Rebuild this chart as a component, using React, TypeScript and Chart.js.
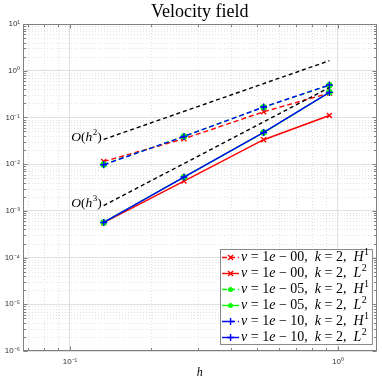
import React, { useEffect, useRef } from 'react';
import { Chart, registerables } from 'chart.js';

Chart.register(...registerables);

// ---- data ----
const h = [0.1336, 0.2663, 0.528, 0.929];
const nu0H1 = [0.0114, 0.035, 0.132, 0.333];
const nu0L2 = [5.6e-4, 4.35e-3, 0.0333, 0.11];
const nu5H1 = [0.0098, 0.0391, 0.166, 0.49];
const nu5L2 = [5.65e-4, 5.28e-3, 0.0475, 0.345];
const nu10H1 = [0.0097, 0.0392, 0.167, 0.494];
const nu10L2 = [5.65e-4, 5.29e-3, 0.0477, 0.343];
// reference slopes, values at h[0] and h[3]
const refH2 = [0.0339, 1.64];
const refH3 = [1.3e-3, 0.437];

const xLimits = [0.0668, 1.3935];
const yLimits = [1e-6, 10];
const xTickValues = [0.1, 1];
const yTickValues = [1e-6, 1e-5, 1e-4, 1e-3, 1e-2, 1e-1, 1, 10];

const titleText = 'Velocity field';
const nuLabels = ['00', '00', '05', '05', '10', '10'];
const normLabels = ['H', 'L', 'H', 'L', 'H', 'L'];
const normSup = ['1', '2', '1', '2', '1', '2'];

const SUP: Record<string, string> = {
  '-': '\u207B', '0': '\u2070', '1': '\u00B9', '2': '\u00B2', '3': '\u00B3',
  '4': '\u2074', '5': '\u2075', '6': '\u2076', '7': '\u2077', '8': '\u2078', '9': '\u2079',
};
const pow10Label = (v: number) => {
  const e = Math.round(Math.log10(v));
  return '10' + String(e).split('').map((c) => SUP[c]).join('');
};

type Seg = { t: string; it?: boolean; sup?: boolean };
const SERIF = '"Liberation Serif", "DejaVu Serif", serif';

function segFont(s: Seg, size: number) {
  const sz = s.sup ? Math.round(size * 0.7) : size;
  return `${s.it ? 'italic ' : ''}${sz}px ${SERIF}`;
}
function richWidth(ctx: CanvasRenderingContext2D, segs: Seg[], size: number) {
  let w = 0;
  for (const s of segs) {
    ctx.font = segFont(s, size);
    w += ctx.measureText(s.t).width + (s.sup ? 0.5 : 0);
  }
  return w;
}
function drawRich(ctx: CanvasRenderingContext2D, segs: Seg[], x: number, y: number, size: number) {
  let cx = x;
  ctx.textBaseline = 'middle';
  ctx.textAlign = 'left';
  for (const s of segs) {
    ctx.font = segFont(s, size);
    ctx.fillText(s.t, cx + (s.sup ? 0.5 : 0), s.sup ? y - size * 0.38 : y);
    cx += ctx.measureText(s.t).width + (s.sup ? 0.5 : 0);
  }
  return cx;
}

function drawMarker(ctx: CanvasRenderingContext2D, style: string, x: number, y: number, r: number, color: string, lw: number) {
  ctx.save();
  ctx.setLineDash([]);
  ctx.strokeStyle = color;
  ctx.fillStyle = color;
  ctx.lineWidth = lw;
  ctx.beginPath();
  if (style === 'circle') {
    ctx.arc(x, y, r, 0, Math.PI * 2);
    ctx.fill();
  } else if (style === 'cross') {
    ctx.moveTo(x - r, y); ctx.lineTo(x + r, y);
    ctx.moveTo(x, y - r); ctx.lineTo(x, y + r);
    ctx.stroke();
  } else {
    const d = r * 0.707;
    ctx.moveTo(x - d, y - d); ctx.lineTo(x + d, y + d);
    ctx.moveTo(x + d, y - d); ctx.lineTo(x - d, y + d);
    ctx.stroke();
  }
  ctx.restore();
}

function minorValues(min: number, max: number) {
  const out: number[] = [];
  for (let e = Math.floor(Math.log10(min)); e <= Math.ceil(Math.log10(max)); e++) {
    for (let m = 2; m <= 9; m++) {
      const v = m * Math.pow(10, e);
      if (v > min && v < max) out.push(v);
    }
  }
  return out;
}

const decor = {
  id: 'decor',
  beforeDatasetsDraw(chart: any) {
    const { ctx, chartArea: a, scales } = chart;
    const x = scales.x, y = scales.y;
    ctx.save();
    ctx.strokeStyle = '#e2e2e2';
    ctx.lineWidth = 1;
    ctx.setLineDash([1, 2]);
    for (const v of minorValues(xLimits[0], xLimits[1])) {
      const px = Math.round(x.getPixelForValue(v)) + 0.5;
      ctx.beginPath(); ctx.moveTo(px, a.top); ctx.lineTo(px, a.bottom); ctx.stroke();
    }
    for (const v of minorValues(yLimits[0], yLimits[1])) {
      const py = Math.round(y.getPixelForValue(v)) + 0.5;
      ctx.beginPath(); ctx.moveTo(a.left, py); ctx.lineTo(a.right, py); ctx.stroke();
    }
    ctx.restore();
  },
  afterDatasetsDraw(chart: any) {
    const { ctx, chartArea: a, scales } = chart;
    const x = scales.x, y = scales.y;
    ctx.save();
    // box and inward ticks
    ctx.strokeStyle = '#808080';
    ctx.lineWidth = 1;
    ctx.setLineDash([]);
    const L = Math.round(a.left) + 0.5, R = Math.round(a.right) - 0.5;
    const T = Math.round(a.top) + 0.5, B = Math.round(a.bottom) - 0.5;
    ctx.strokeRect(L, T, R - L, B - T);
    ctx.beginPath();
    const tickX = (v: number, len: number) => {
      const px = Math.round(x.getPixelForValue(v)) + 0.5;
      ctx.moveTo(px, B); ctx.lineTo(px, B - len);
      ctx.moveTo(px, T); ctx.lineTo(px, T + len);
    };
    const tickY = (v: number, len: number) => {
      const py = Math.round(y.getPixelForValue(v)) + 0.5;
      ctx.moveTo(L, py); ctx.lineTo(L + len, py);
      ctx.moveTo(R, py); ctx.lineTo(R - len, py);
    };
    xTickValues.forEach((v) => tickX(v, 4));
    minorValues(xLimits[0], xLimits[1]).forEach((v) => tickX(v, 2.5));
    yTickValues.forEach((v) => tickY(v, 4));
    minorValues(yLimits[0], yLimits[1]).forEach((v) => tickY(v, 2.5));
    ctx.stroke();

    // slope labels
    ctx.fillStyle = '#000';
    const lab = (order: string, yv: number) => {
      const segs: Seg[] = [{ t: 'O', it: true }, { t: '(' }, { t: 'h', it: true }, { t: order, sup: true }, { t: ')' }];
      const w = richWidth(ctx, segs, 13.5);
      const px = x.getPixelForValue(h[0]);
      const py = y.getPixelForValue(yv);
      drawRich(ctx, segs, px - 2 - w, py - 2, 13.5);
    };
    lab('2', refH2[0]);
    lab('3', refH3[0]);

    // title, centred over the plot area
    ctx.font = `18px ${SERIF}`;
    ctx.textAlign = 'center';
    ctx.textBaseline = 'middle';
    ctx.fillText(titleText, (a.left + a.right) / 2, a.top - 12);
    ctx.restore();
  },
  afterDraw(chart: any) {
    const { ctx, chartArea: a } = chart;
    const ds = chart.data.datasets.filter((d: any) => d.inLegend);
    const size = 14;
    const rows: Seg[][] = ds.map((_: any, i: number) => [
      { t: '\u03BD', it: true }, { t: ' = 1' }, { t: 'e', it: true }, { t: ' \u2212 ' + nuLabels[i] + ',  ' },
      { t: 'k', it: true }, { t: ' = 2,  ' }, { t: normLabels[i], it: true }, { t: normSup[i], sup: true },
    ]);
    ctx.save();
    let maxW = 0;
    rows.forEach((r) => { maxW = Math.max(maxW, richWidth(ctx, r, size)); });
    const rowH = 16;
    const boxW = 21 + maxW + 4;
    const boxH = rows.length * rowH;
    const right = Math.round(a.right) - 4;
    const bottom = Math.round(a.bottom) - 6;
    const left = right - boxW, top = bottom - boxH;
    ctx.fillStyle = '#fff';
    ctx.fillRect(left, top, boxW, boxH);
    ctx.strokeStyle = '#8a8a8a';
    ctx.lineWidth = 1;
    ctx.strokeRect(Math.round(left) + 0.5, top + 0.5, boxW - 1, boxH - 1);
    ds.forEach((d: any, i: number) => {
      const cy = top + rowH / 2 + i * rowH + 0.5;
      ctx.save();
      ctx.strokeStyle = d.borderColor;
      ctx.lineWidth = d.borderWidth;
      ctx.setLineDash(d.borderDash || []);
      ctx.beginPath(); ctx.moveTo(left + 2, cy); ctx.lineTo(left + 19, cy); ctx.stroke();
      ctx.restore();
      drawMarker(ctx, d.pointStyle, left + 10.5, cy, d.pointRadius, d.borderColor, d.pointBorderWidth);
      ctx.fillStyle = '#000';
      drawRich(ctx, rows[i], left + 21, cy, size);
    });
    ctx.restore();
  },
};

function series(label: string, ys: number[], color: string, dashed: boolean, style: string, r: number, order: number) {
  return {
    label,
    inLegend: true,
    data: h.map((xv, i) => ({ x: xv, y: ys[i] })),
    borderColor: color,
    backgroundColor: color,
    borderWidth: 1.4,
    borderDash: dashed ? [5, 3] : [],
    pointStyle: style,
    pointRadius: r,
    pointBorderWidth: 1.4,
    pointBackgroundColor: color,
    pointBorderColor: color,
    order,
  };
}

function refLine(label: string, ys: number[]) {
  return {
    label,
    inLegend: false,
    data: [{ x: h[0], y: ys[0] }, { x: h[h.length - 1], y: ys[1] }],
    borderColor: '#000',
    borderWidth: 1.4,
    borderDash: [4, 3],
    pointRadius: 0,
    order: 0,
  };
}

export default function App() {
  const ref = useRef<HTMLCanvasElement>(null);
  useEffect(() => {
    if (!ref.current) return;
    const chart = new Chart(ref.current, {
      type: 'line',
      data: {
        datasets: [
          series('nu=1e-00 H1', nu0H1, '#ff0000', true, 'crossRot', 3.5, 6),
          series('nu=1e-00 L2', nu0L2, '#ff0000', false, 'crossRot', 3.5, 5),
          series('nu=1e-05 H1', nu5H1, '#00ff00', true, 'circle', 2.5, 4),
          series('nu=1e-05 L2', nu5L2, '#00ff00', false, 'circle', 2.5, 3),
          series('nu=1e-10 H1', nu10H1, '#0000ff', true, 'cross', 3.5, 2),
          series('nu=1e-10 L2', nu10L2, '#0000ff', false, 'cross', 3.5, 1),
          refLine('O(h^2)', refH2),
          refLine('O(h^3)', refH3),
        ] as any,
      },
      options: {
        animation: false,
        responsive: false,
        layout: { padding: { left: 0, right: 2, top: 24, bottom: 0 } },
        plugins: {
          legend: { display: false },
          tooltip: { enabled: false },
          title: { display: false },
        },
        scales: {
          x: {
            type: 'logarithmic',
            min: xLimits[0],
            max: xLimits[1],
            afterBuildTicks: (s: any) => { s.ticks = xTickValues.map((v) => ({ value: v })); },
            afterFit: (s: any) => { s.height = 31; },
            ticks: {
              callback: (v: any) => pow10Label(Number(v)),
              color: '#333',
              font: { family: '"Liberation Sans", Arial, sans-serif', size: 8 },
              padding: 6,
              maxRotation: 0,
              autoSkip: false,
            },
            grid: { color: '#e0e0e0', drawTicks: false },
            border: { display: false },
            title: {
              display: true,
              text: 'h',
              color: '#000',
              font: { family: SERIF, size: 12, style: 'italic' },
              padding: { top: 0, bottom: 2 },
            },
          },
          y: {
            type: 'logarithmic',
            min: yLimits[0],
            max: yLimits[1],
            afterBuildTicks: (s: any) => { s.ticks = yTickValues.map((v) => ({ value: v })); },
            afterFit: (s: any) => { s.width = 23; },
            ticks: {
              callback: (v: any) => pow10Label(Number(v)),
              color: '#333',
              font: { family: '"Liberation Sans", Arial, sans-serif', size: 8 },
              padding: 3,
              autoSkip: false,
            },
            grid: { color: '#e0e0e0', drawTicks: false },
            border: { display: false },
          },
        },
      } as any,
      plugins: [decor],
    });
    return () => chart.destroy();
  }, []);
  return (
    <div style={{ position: 'fixed', left: 0, top: 0, width: 382, height: 382, background: '#fff' }}>
      <canvas ref={ref} width={382} height={382} style={{ width: 382, height: 382 }} />
    </div>
  );
}
